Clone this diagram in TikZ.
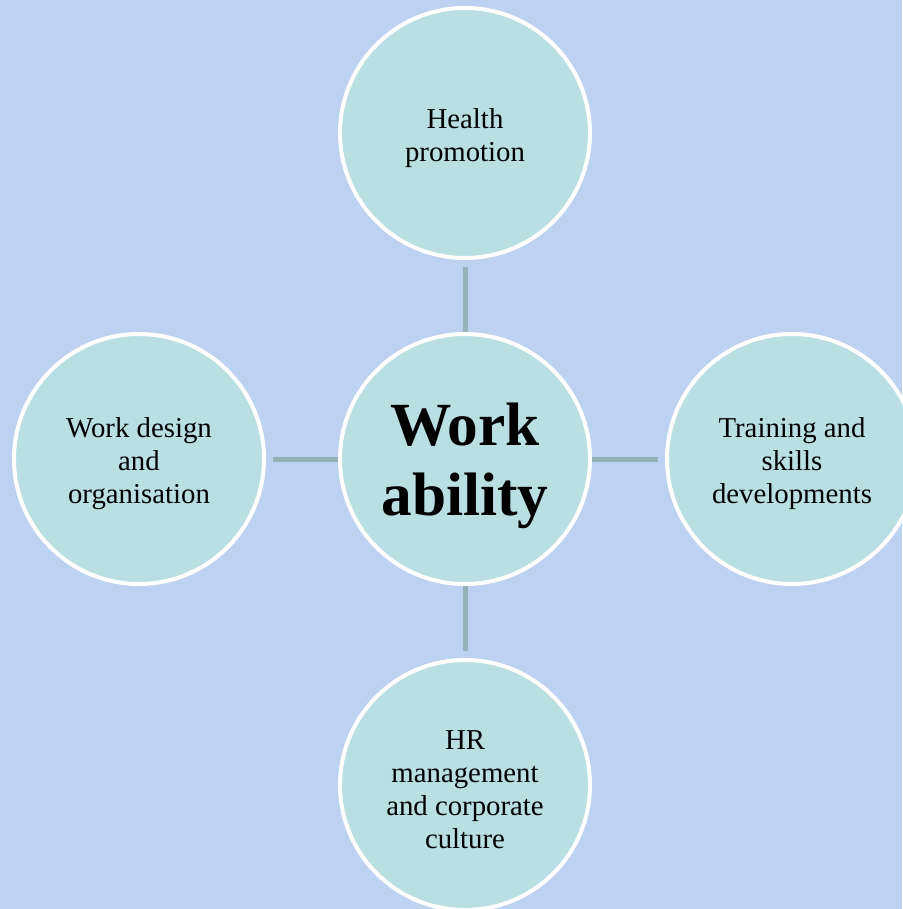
\documentclass[tikz,border=0pt]{standalone}
\usepackage{fontspec}
\setmainfont{Liberation Serif}
\definecolor{bgblue}{RGB}{189,209,240}
\definecolor{bubble}{RGB}{185,223,227}
\definecolor{linkgray}{RGB}{148,179,184}
\begin{document}
\begin{tikzpicture}[x=0.75pt,y=-0.75pt,
  bubblenode/.style={circle, draw=white, line width=3pt, fill=bubble,
    minimum size=187.5pt, inner sep=0pt},
  caption/.style={align=center, yshift=-3.75pt, inner sep=0pt,
    font=\fontsize{21.6pt}{24.75pt}\selectfont},
  hubcaption/.style={caption, yshift=-1.5pt,
    font=\fontsize{46pt}{52.5pt}\selectfont\bfseries},
  link/.style={draw=linkgray, line width=3.75pt, shorten >=5.25pt}]
  % canvas
  \fill[bgblue] (0,0) rectangle (902,909);
  \useasboundingbox (0,0) rectangle (902,909);
  % hub and its four factors
  \node[bubblenode, label={[hubcaption]center:{Work\\ability}}] (hub) at (465,459) {};
  \node[bubblenode, label={[caption]center:{Health\\promotion}}] (health) at (465,133) {};
  \node[bubblenode, label={[caption]center:{Work design\\and\\organisation}}] (design) at (139,459) {};
  \node[bubblenode, label={[caption]center:{Training and\\skills\\developments}}] (train) at (792,459) {};
  \node[bubblenode, label={[caption]center:{HR\\management\\and corporate\\culture}}] (hr) at (465,785) {};
  % connectors
  \draw[link] (hub.north) -- (health.south);
  \draw[link] (hub.west) -- (design.east);
  \draw[link] (hub.east) -- (train.west);
  \draw[link] (hub.south) -- (hr.north);
\end{tikzpicture}
\end{document}
